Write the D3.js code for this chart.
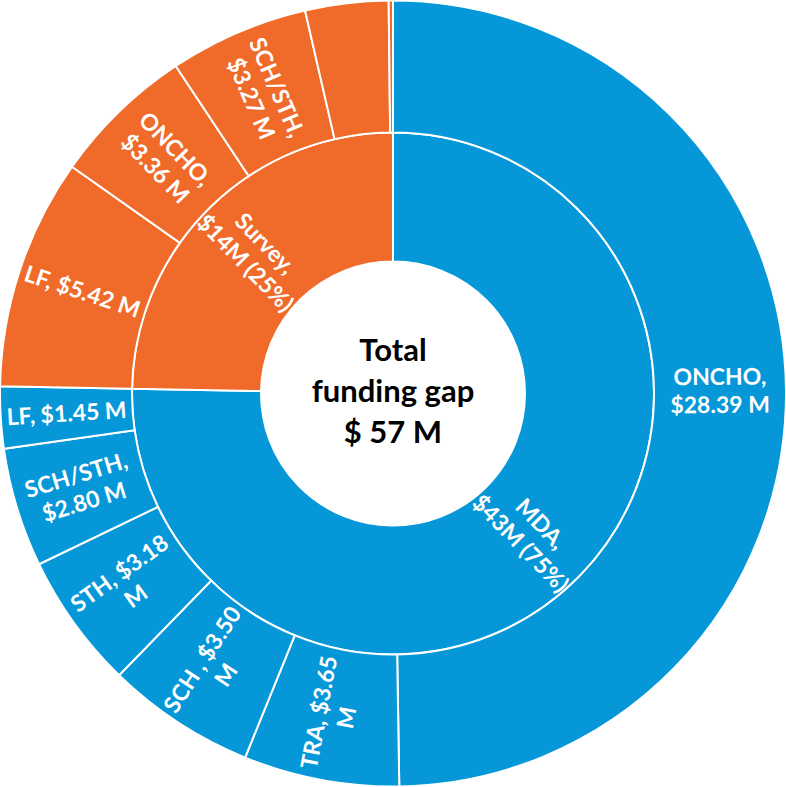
<!DOCTYPE html>
<html>
<head>
<meta charset="utf-8">
<script src="https://cdn.jsdelivr.net/npm/d3@7"></script>
<style>
  body { margin: 0; background: #fff; }
  text { font-family: Lato, "Open Sans", sans-serif; }
</style>
</head>
<body>
<script>
// inner ring
var parentNames = ["MDA", "Survey"];
var parentLabels = [["MDA,", "$43M (75%)"], ["Survey,", "$14M (25%)"]];

// outer ring, MDA children
var mdaNames = ["ONCHO", "TRA", "SCH", "STH", "SCH/STH", "LF"];
var mdaValues = [28.39, 3.65, 3.50, 3.18, 2.80, 1.45];
var mdaLabels = [["ONCHO,", "$28.39 M"], ["TRA, $3.65", "M"], ["SCH , $3.50", "M"],
                 ["STH, $3.18", "M"], ["SCH/STH,", "$2.80 M"], ["LF, $1.45 M"]];

// outer ring, Survey children (last two have no label)
var surveyNames = ["LF", "ONCHO", "SCH/STH", "Other", "Other2"];
var surveyValues = [5.42, 3.36, 3.27, 1.95, 0.10];
var surveyLabels = [["LF, $5.42 M"], ["ONCHO,", "$3.36 M"], ["SCH/STH,", "$3.27 M"], [], []];

var centerLines = ["Total", "funding gap", "$ 57 M"];

var width = 786, height = 787,
    cx = 393, cy = 393.5,
    radii = [0, 132, 261, 393],
    colors = { MDA: "#0597d8", Survey: "#f06a2a" };

function kids(names, values, labels) {
  return names.map(function(n, i) { return { name: n, value: values[i], label: labels[i] }; });
}

var data = {
  name: "root",
  children: [
    { name: parentNames[0], label: parentLabels[0], children: kids(mdaNames, mdaValues, mdaLabels) },
    { name: parentNames[1], label: parentLabels[1], children: kids(surveyNames, surveyValues, surveyLabels) }
  ]
};

var root = d3.hierarchy(data).sum(function(d) { return d.children ? 0 : d.value; });
d3.partition().size([2 * Math.PI, 3])(root);

var svg = d3.select("body").append("svg")
  .attr("width", width).attr("height", height);
var g = svg.append("g").attr("transform", "translate(" + cx + "," + cy + ")");

var arc = d3.arc()
  .startAngle(function(d) { return d.x0; })
  .endAngle(function(d) { return d.x1; })
  .innerRadius(function(d) { return radii[d.depth]; })
  .outerRadius(function(d) { return radii[d.depth + 1]; });

var nodes = root.descendants().filter(function(d) { return d.depth > 0; });

g.selectAll("path.seg").data(nodes).enter().append("path")
  .attr("class", "seg")
  .attr("d", arc)
  .attr("fill", function(d) { return colors[d.depth == 1 ? d.data.name : d.parent.data.name]; })
  .attr("stroke", "#fff")
  .attr("stroke-width", 2);

// radial labels
var lineH = 28;
var lab = g.selectAll("g.lab").data(nodes.filter(function(d) { return d.data.label && d.data.label.length; }))
  .enter().append("g").attr("class", "lab")
  .attr("transform", function(d) {
    var a = (d.x0 + d.x1) / 2,
        r = (radii[d.depth] + radii[d.depth + 1]) / 2,
        deg = a * 180 / Math.PI,
        rot = deg < 180 ? deg - 90 : deg - 270;
    return "translate(" + (r * Math.sin(a)) + "," + (-r * Math.cos(a)) + ") rotate(" + rot + ")";
  });

lab.each(function(d) {
  var lines = d.data.label, n = lines.length;
  d3.select(this).selectAll("text").data(lines).enter().append("text")
    .attr("text-anchor", "middle")
    .attr("y", function(t, i) { return (i - (n - 1) / 2) * lineH + 8; })
    .attr("fill", "#fff")
    .attr("font-size", 23)
    .attr("font-weight", "bold")
    .text(function(t) { return t; });
});

// centre text
g.selectAll("text.center").data(centerLines).enter().append("text")
  .attr("class", "center")
  .attr("text-anchor", "middle")
  .attr("y", function(t, i) { return -33 + i * 41; })
  .attr("font-size", 31)
  .attr("font-weight", "bold")
  .attr("fill", "#000")
  .text(function(t) { return t; });
</script>
</body>
</html>
